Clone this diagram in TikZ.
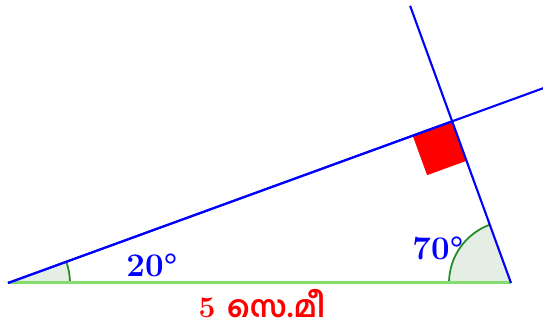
\documentclass[tikz,border=0pt]{standalone}
\usepackage{fontspec}
\newfontfamily\malfont[Script=Malayalam]{Hind Kochi}
\usetikzlibrary{calc}
\definecolor{basegreen}{RGB}{130,220,110}
\definecolor{arcgreen}{RGB}{40,140,40}
\definecolor{anglefill}{RGB}{228,238,228}
\tikzset{
  blueline/.style={draw=blue, line width=2.1pt},
  baseline/.style={draw=basegreen, line width=3pt},
  arcline/.style={draw=arcgreen, line width=1.8pt},
  anglelabel/.style={text=blue, font=\fontsize{33}{38}\selectfont\bfseries, inner sep=0pt},
  lenlabel/.style={text=red, font=\fontsize{30}{34}\selectfont\bfseries, inner sep=0pt}
}
\begin{document}
\begin{tikzpicture}[x=1pt,y=1pt]
\useasboundingbox (0,0) rectangle (543,331);
\coordinate (A) at (8,48);
\coordinate (B) at (511,48);
\coordinate (C) at ($(A)+(20:472.7)$);
\coordinate (E1) at ($(A)+(20:570)$);
\coordinate (E2) at ($(B)+(110:295)$);
\coordinate (S1) at ($(C)+(200:42)$);
\coordinate (S3) at ($(C)+(290:42)$);
\coordinate (S2) at ($(S1)+(290:42)$);
% angle sectors
\fill[anglefill] (A) -- ++(0:62) arc (0:20:62) -- cycle;
\draw[arcline] ($(A)+(0:62)$) arc (0:20:62);
\fill[anglefill] (B) -- ++(110:62) arc (110:180:62) -- cycle;
\draw[arcline] ($(B)+(110:62)$) arc (110:180:62);
% right angle mark
\fill[red] (C) -- (S1) -- (S2) -- (S3) -- cycle;
% base
\draw[baseline] (A) -- (B);
% lines
\draw[blueline] (A) -- (E1);
\draw[blueline] (A) -- (C);
\draw[blueline] (B) -- (E2);
% labels
\node[anglelabel] (l20) at (152,66) {20°};
\node[anglelabel] (l70) at (438,83) {70°};
\node[lenlabel, anchor=base] (len) at (262,13) {\smash{5 {\malfont സെ.മീ}}};
\end{tikzpicture}
\end{document}
